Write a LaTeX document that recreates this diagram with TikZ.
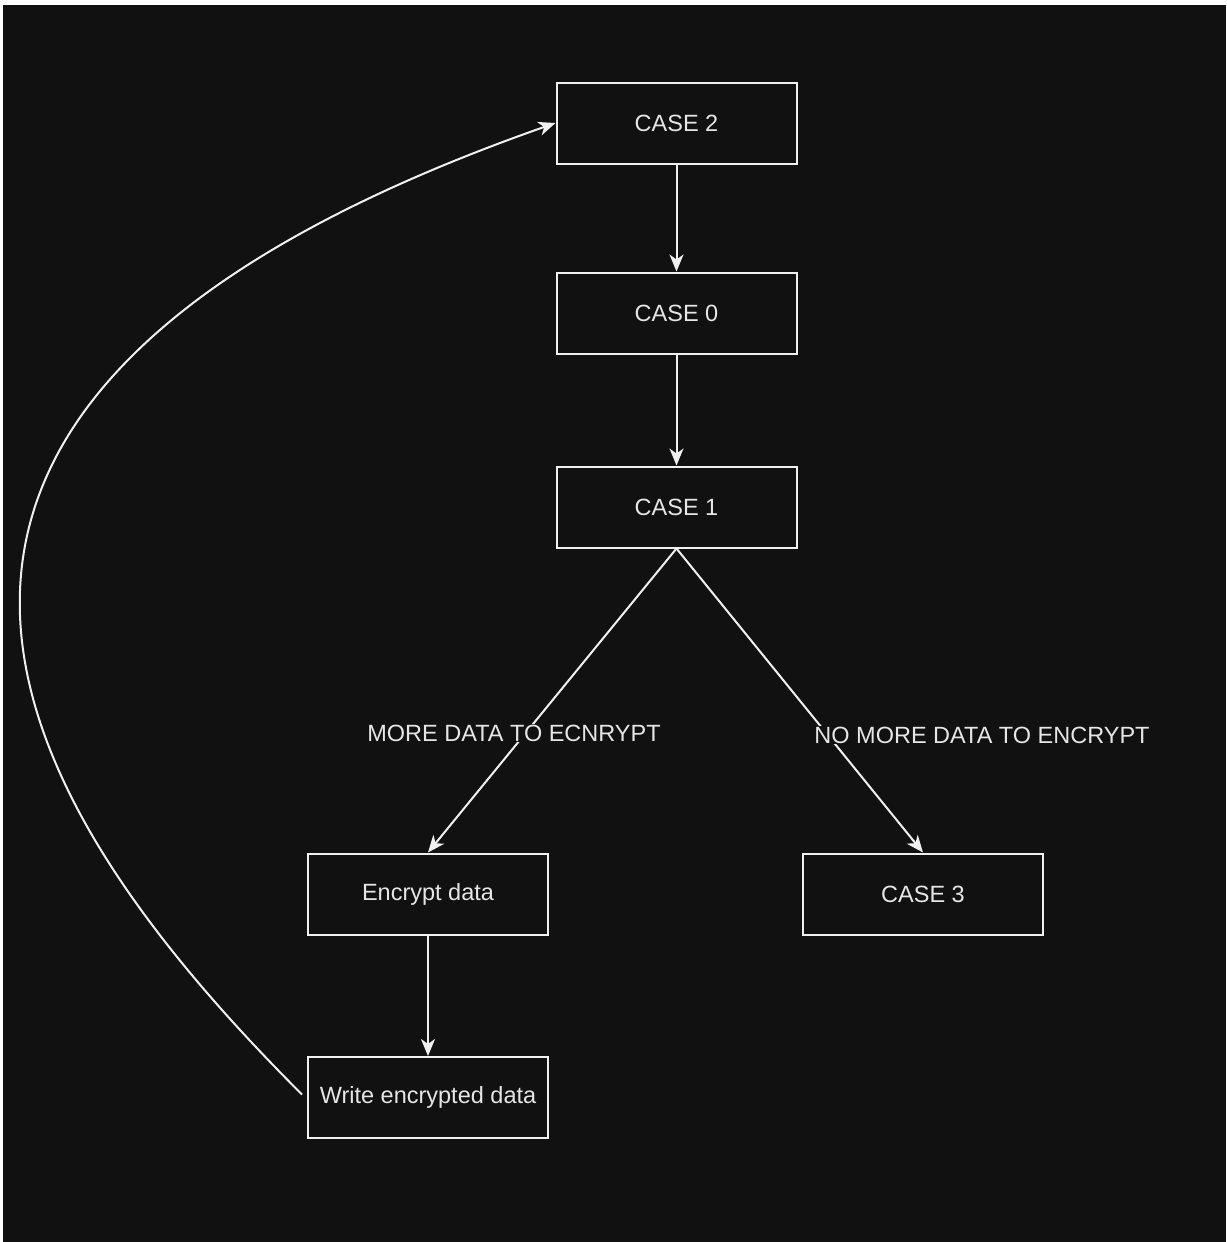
\documentclass[tikz,border=0pt]{standalone}
\usepackage{fontspec}
\setmainfont{Liberation Sans}
\usetikzlibrary{arrows.meta}
\definecolor{bg}{HTML}{111111}
\definecolor{fg}{HTML}{F0F0F0}
\definecolor{tx}{HTML}{E6E6E6}
\begin{document}
\begin{tikzpicture}[x=1pt,y=-1pt,
  box/.style={draw=fg,line width=2pt,minimum width=240pt,minimum height=81pt,inner sep=0pt,text=tx,font=\fontsize{23.5}{28}\selectfont},
  lbl/.style={fill=bg,text=tx,inner sep=1pt,font=\fontsize{23.5}{28}\selectfont},
  conn/.style={draw=fg,line width=2pt,-{Stealth[length=17pt,width=14pt,inset=5pt]}}]
\fill[white] (0,0) rectangle (1226,1242);
\fill[bg] (3,5) rectangle (1226,1242);
\useasboundingbox (0,0) rectangle (1226,1242);
\node[box] (c2) at (676.5,123) {CASE 2};
\node[box] (c0) at (676.5,313) {CASE 0};
\node[box] (c1) at (676.5,507) {CASE 1};
\node[box] (enc) at (428,894) {Encrypt data};
\node[box] (c3) at (923,894) {CASE 3};
\node[box] (wr) at (428,1097.5) {Write encrypted data};
\draw[conn] (c2) -- (c0);
\draw[conn] (c0) -- (c1);
\draw[conn] (c1.south) -- (enc.north);
\draw[conn] (c1.south) -- (c3.north);
\draw[conn] (enc) -- (wr);
\node[lbl] (l1) at (514,733) {MORE DATA TO ECNRYPT};
\node[lbl] (l2) at (982,735) {NO MORE DATA TO ENCRYPT};
\draw[conn] ([xshift=-5pt,yshift=3pt]wr.west) .. controls +(-286,-286) and +(-801,281) .. (c2.west);
\end{tikzpicture}
\end{document}
